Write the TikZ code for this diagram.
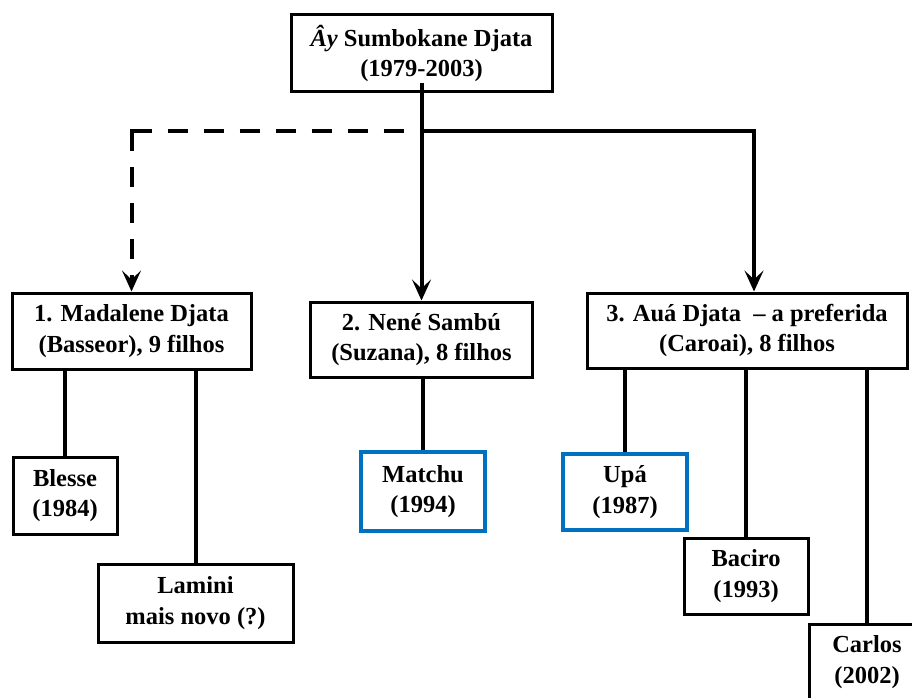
\documentclass[tikz,border=0pt]{standalone}
\usepackage{fontspec}
\setmainfont{Liberation Serif}
\usetikzlibrary{arrows.meta}
\definecolor{boxblue}{RGB}{0,112,192}
\begin{document}
\begin{tikzpicture}[x=1pt,y=-1pt,
  box/.style={draw, line width=3pt, align=center, inner sep=0pt,
    font=\fontsize{24.5}{30.5}\selectfont\bfseries},
  bluebox/.style={box, draw=boxblue, line width=4pt},
  link/.style={line width=4pt},
  dashlink/.style={link, dash pattern=on 20pt off 16pt},
  tip/.style={-{Stealth[length=21pt,width=19pt,inset=9pt]}},
]
\useasboundingbox (0,0) rectangle (912,698);
\clip (0,0) rectangle (912,698);

% father
\node[box, minimum width=261pt, minimum height=77pt] (ay) at (421.5,53.5)
  {\textit{Ây} Sumbokane Djata\\(1979-2003)};

% wives
\node[box, minimum width=239pt, minimum height=76pt] (w1) at (131.5,331)
  {1. Madalene Djata\\(Basseor), 9 filhos};
\node[box, minimum width=222pt, minimum height=75pt] (w2) at (421.5,339.5)
  {2. Nené Sambú\\(Suzana), 8 filhos};
\node[box, minimum width=320pt, minimum height=75pt] (w3) at (747,330.5)
  {3. Auá Djata \ – a preferida\\(Caroai), 8 filhos};

% children
\node[box, minimum width=104pt, minimum height=77pt] (blesse) at (65,495.5)
  {Blesse\\(1984)};
\node[box, minimum width=195pt, minimum height=78pt] (lamini) at (195.5,603)
  {Lamini\\mais novo (?)};
\node[bluebox, minimum width=124pt, minimum height=79pt] (matchu) at (423,491.5)
  {Matchu\\(1994)};
\node[bluebox, minimum width=124pt, minimum height=76pt] (upa) at (625,492)
  {Upá\\(1987)};
\node[box, minimum width=124pt, minimum height=76pt] (baciro) at (746,576)
  {Baciro\\(1993)};
\node[box, minimum width=116pt, minimum height=76pt] (carlos) at (867,662)
  {Carlos\\(2002)};

% father to wives
\coordinate (split) at (421.5,131);
\coordinate (lcorner) at (131.5,131);
\coordinate (rcorner) at (754,131);
\draw[link, tip] ([yshift=10pt]ay.south) -- (w2.north);
\draw[link, tip] (split) -- (rcorner) -- (rcorner |- w3.north);
\draw[dashlink] (lcorner) -- (split);
\draw[dashlink, tip] (lcorner) -- (w1.north);
\fill (lcorner) ++(-2,-2) rectangle ++(4,4);

% wives to children
\draw[link] (w1.south -| blesse.north) -- (blesse.north);
\draw[link] (w1.south -| lamini.north) -- (lamini.north);
\draw[link] (w2.south -| matchu.north) -- (matchu.north);
\draw[link] (w3.south -| upa.north) -- (upa.north);
\draw[link] (w3.south -| baciro.north) -- (baciro.north);
\draw[link] (w3.south -| carlos.north) -- (carlos.north);
\end{tikzpicture}
\end{document}
